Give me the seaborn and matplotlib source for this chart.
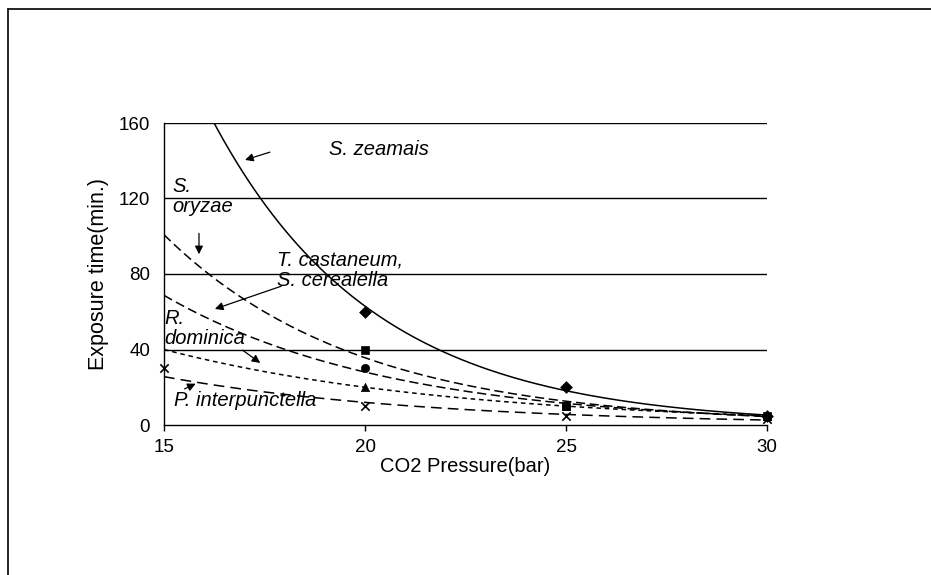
import numpy as np
import pandas as pd
import matplotlib
matplotlib.use("Agg")
import matplotlib.pyplot as plt
from matplotlib.lines import Line2D
import seaborn as sns

# marker data (exposure time in min. at each CO2 pressure)
zeamais_x = [20, 25, 30]
zeamais_y = [60, 20, 5]
oryzae_x = [20, 25, 30]
oryzae_y = [40, 10, 5]
castaneum_x = [20, 25, 30]
castaneum_y = [30, 10, 5]
dominica_x = [20, 25, 30]
dominica_y = [20, 10, 5]
interp_x = [15, 20, 25, 30]
interp_y = [30, 10, 5, 3]

xticks = [15, 20, 25, 30]
yticks = [0, 40, 80, 120, 160]

sns.set_theme(style="white")
plt.rcParams['font.family'] = ['Liberation Sans', 'DejaVu Sans']

fig = plt.figure(figsize=(9.31, 5.75), dpi=100)
ax = fig.add_axes([164 / 931, 1 - 425 / 575, (767 - 164) / 931, (425 - 123) / 575])

series = [
    (zeamais_x, zeamais_y, 'D', '-'),
    (oryzae_x, oryzae_y, 's', (0, (6, 3))),
    (castaneum_x, castaneum_y, 'o', (0, (6, 3))),
    (dominica_x, dominica_y, '^', (0, (3, 2.5))),
    (interp_x, interp_y, 'x', (0, (7, 4))),
]

# horizontal gridlines
for v in yticks[1:]:
    ax.axhline(v, color='black', lw=1, zorder=1)

grid = np.linspace(15, 30, 200)
for xs, ys, mk, ls in series:
    # exponential trendline, as drawn in the source chart
    b, a = np.polyfit(xs, np.log(ys), 1)
    trend = pd.DataFrame({'x': grid, 'y': np.exp(a + b * grid)})
    sns.lineplot(data=trend, x='x', y='y', ax=ax, color='black', lw=1.1,
                 linestyle=ls, zorder=2)
    pts = pd.DataFrame({'x': xs, 'y': ys})
    if mk == 'x':
        ax.scatter(pts['x'], pts['y'], marker='x', color='black', s=36,
                   linewidths=1.2, zorder=3, clip_on=False)
    else:
        sns.scatterplot(data=pts, x='x', y='y', ax=ax, marker=mk, color='black',
                        s=36, edgecolor='black', zorder=3, clip_on=False)

ax.set_xlim(15, 30)
ax.set_ylim(0, 160)
ax.set_xticks(xticks)
ax.set_yticks(yticks)
ax.tick_params(axis='x', direction='out', length=4, width=1, colors='black',
               labelsize=13.5, pad=6, bottom=True)
ax.tick_params(axis='y', length=0, labelsize=13.5, pad=10, colors='black')
for s in ['top', 'right']:
    ax.spines[s].set_visible(False)
for s in ['left', 'bottom']:
    ax.spines[s].set_color('black')
    ax.spines[s].set_linewidth(1)
ax.set_xlabel('CO2 Pressure(bar)', fontsize=14.5, labelpad=1, color='black')
ax.set_ylabel('Exposure time(min.)', fontsize=15.5, labelpad=7, color='black')

# species labels with arrows
tk = dict(fontsize=14.5, style='italic', color='black', linespacing=1.08)
ap = dict(arrowstyle='-|>', color='black', lw=0.9, mutation_scale=12)
ax.annotate('', xy=(16.95, 140), xytext=(17.7, 145), arrowprops=ap)
ax.text(19.1, 146, 'S. zeamais', va='center', **tk)
ax.text(15.2, 121, 'S.\noryzae', va='center', **tk)
ax.annotate('', xy=(15.87, 89), xytext=(15.87, 103), arrowprops=ap)
ax.text(17.8, 82, 'T. castaneum,\nS. cerealella', va='center', **tk)
ax.annotate('', xy=(16.2, 61), xytext=(17.98, 74), arrowprops=ap)
ax.text(15.0, 51, 'R.\ndominica', va='center', **tk)
ax.annotate('', xy=(17.45, 32), xytext=(16.9, 40.5), arrowprops=ap)
ax.text(15.25, 13, 'P. interpunctella', va='center', **tk)
ax.annotate('', xy=(15.85, 22.5), xytext=(15.45, 18.5), arrowprops=ap)

# outer frame of the original figure (cut off at right and bottom)
fig.add_artist(Line2D([7.5 / 931, 7.5 / 931], [0, 1 - 9 / 575], color='black', lw=1.2))
fig.add_artist(Line2D([7.5 / 931, 1], [1 - 9 / 575, 1 - 9 / 575], color='black', lw=1.2))

fig.savefig('out.png', dpi=100, facecolor='white')
